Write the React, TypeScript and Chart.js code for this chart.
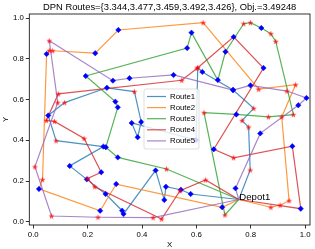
import React, { useEffect, useRef } from 'react';
import { Chart, registerables } from 'chart.js';

Chart.register(...registerables);

const TITLE = 'DPN Routes={3.344,3.477,3.459,3.492,3.426}, Obj.=3.49248';
const routeNames = ['Route1', 'Route2', 'Route3', 'Route4', 'Route5'];
const routeColors = ['rgba(31,119,180,0.8)', 'rgba(255,127,14,0.8)', 'rgba(44,160,44,0.8)', 'rgba(214,39,40,0.8)', 'rgba(148,103,189,0.8)'];
const depotLabel = 'Depot1';
const depotX = 0.756;
const depotY = 0.109;
const xTicks = [0, 0.2, 0.4, 0.6, 0.8, 1.0];
const yTicks = [0, 0.2, 0.4, 0.6, 0.8, 1.0];
const X_MIN = -0.0146;
const X_MAX = 1.018;
const Y_MIN = -0.0162;
const Y_MAX = 1.0206;

// D = delivery (blue diamond), S = pickup (red star)
const route1X = [0.798, 0.792, 0.768, 0.811, 0.735, 0.622, 0.605, 0.599, 0.362, 0.384, 0.397, 0.372, 0.271, 0.115, 0.055, 0.084, 0.258, 0.134, 0.197, 0.266, 0.327, 0.332, 0.450, 0.482, 0.488, 0.543, 0.579];
const route1Y = [0.254, 0.465, 0.497, 0.557, 0.647, 0.736, 0.758, 0.401, 0.485, 0.415, 0.490, 0.639, 0.658, 0.585, 0.522, 0.398, 0.369, 0.274, 0.208, 0.136, 0.054, 0.038, 0.252, 0.107, 0.172, 0.157, 0.136];
const route1Kind = ['S', 'S', 'S', 'S', 'D', 'D', 'S', 'D', 'D', 'D', 'D', 'S', 'D', 'S', 'D', 'S', 'D', 'D', 'D', 'D', 'D', 'D', 'D', 'D', 'D', 'D', 'D'];

const route2X = [0.874, 0.908, 0.941, 0.914, 0.965, 0.829, 0.625, 0.313, 0.228, 0.071, 0.059, 0.049, 0.034, 0.021, 0.246, 0.305, 0.695];
const route2Y = [0.071, 0.081, 0.103, 0.515, 0.673, 0.651, 0.978, 0.942, 0.828, 0.840, 0.841, 0.824, 0.207, 0.161, 0.054, 0.185, 0.071];
const route2Kind = ['S', 'S', 'S', 'S', 'S', 'S', 'S', 'D', 'D', 'S', 'S', 'D', 'S', 'D', 'D', 'D', 'D'];

const route3X = [0.705, 0.628, 0.747, 0.865, 0.957, 0.892, 0.874, 0.839, 0.799, 0.774, 0.707, 0.679, 0.582, 0.566, 0.193, 0.302, 0.311, 0.267, 0.311, 0.490];
const route3Y = [0.033, 0.536, 0.527, 0.515, 0.526, 0.886, 0.924, 0.952, 0.978, 0.973, 0.835, 0.696, 0.929, 0.853, 0.716, 0.590, 0.562, 0.366, 0.316, 0.259];
const route3Kind = ['S', 'S', 'D', 'S', 'S', 'S', 'S', 'D', 'S', 'S', 'D', 'D', 'D', 'D', 'D', 'D', 'D', 'D', 'D', 'S'];

const route4X = [0.984, 0.953, 0.737, 0.664, 0.847, 0.737, 0.603, 0.546, 0.092, 0.048, 0.078, 0.187, 0.250, 0.200, 0.226, 0.472, 0.540, 0.634];
const route4Y = [0.064, 0.371, 0.314, 0.356, 0.755, 0.908, 0.754, 0.695, 0.628, 0.497, 0.493, 0.409, 0.243, 0.212, 0.172, 0.013, 0.152, 0.205];
const route4Kind = ['D', 'D', 'S', 'D', 'D', 'D', 'S', 'S', 'S', 'S', 'S', 'S', 'D', 'S', 'S', 'S', 'S', 'S'];

const route5X = [0.744, 0.835, 0.975, 1.005, 0.933, 0.799, 0.735, 0.516, 0.354, 0.293, 0.059, 0.090, 0.006, 0.067, 0.238, 0.441];
const route5Y = [0.164, 0.434, 0.572, 0.608, 0.642, 0.670, 0.647, 0.721, 0.705, 0.693, 0.889, 0.585, 0.270, 0.028, 0.022, 0.020];
const route5Kind = ['D', 'D', 'D', 'D', 'S', 'D', 'D', 'D', 'D', 'D', 'S', 'S', 'S', 'S', 'S', 'S'];

const routesX = [route1X, route2X, route3X, route4X, route5X];
const routesY = [route1Y, route2Y, route3Y, route4Y, route5Y];
const routesKind = [route1Kind, route2Kind, route3Kind, route4Kind, route5Kind];

const FONT = "'Liberation Sans', Arial, sans-serif";

function makeStar(): HTMLCanvasElement {
  const c = document.createElement('canvas');
  c.width = 7;
  c.height = 7;
  const g = c.getContext('2d')!;
  g.fillStyle = 'rgba(255,0,0,0.75)';
  g.beginPath();
  for (let i = 0; i < 10; i++) {
    const r = i % 2 === 0 ? 3.2 : 1.3;
    const a = -Math.PI / 2 + (i * Math.PI) / 5;
    const px = 3.5 + r * Math.cos(a);
    const py = 3.8 + r * Math.sin(a);
    if (i === 0) g.moveTo(px, py);
    else g.lineTo(px, py);
  }
  g.closePath();
  g.fill();
  return c;
}

export default function App() {
  const ref = useRef<HTMLCanvasElement | null>(null);
  useEffect(() => {
    const canvas = ref.current;
    if (!canvas) return;
    const star = makeStar();

    const lineSets = routeNames.map((name, r) => {
      const pts = [{ x: depotX, y: depotY }];
      routesX[r].forEach((x, i) => pts.push({ x, y: routesY[r][i] }));
      pts.push({ x: depotX, y: depotY });
      return {
        label: name,
        data: pts,
        showLine: true,
        borderColor: routeColors[r],
        backgroundColor: routeColors[r],
        borderWidth: 1.2,
        pointRadius: 0,
        order: 10 - r,
      };
    });
    const diamonds: { x: number; y: number }[] = [];
    const stars: { x: number; y: number }[] = [];
    routesX.forEach((xs, r) =>
      xs.forEach((x, i) => {
        const p = { x, y: routesY[r][i] };
        if (routesKind[r][i] === 'D') diamonds.push(p);
        else stars.push(p);
      })
    );

    const overlay = {
      id: 'overlay',
      afterDraw(chart: any) {
        const ctx = chart.ctx;
        const a = chart.chartArea;
        ctx.save();
        ctx.strokeStyle = '#000';
        ctx.lineWidth = 0.8;
        ctx.strokeRect(a.left, a.top, a.right - a.left, a.bottom - a.top);
        ctx.fillStyle = '#000';
        ctx.font = `9.4px ${FONT}`;
        ctx.textAlign = 'center';
        ctx.textBaseline = 'middle';
        ctx.fillText(TITLE, (a.left + a.right) / 2, 7.5);
        ctx.font = `7.8px ${FONT}`;
        ctx.fillText('X', (a.left + a.right) / 2, 244.5);
        ctx.save();
        ctx.translate(5.5, (a.top + a.bottom) / 2);
        ctx.rotate(-Math.PI / 2);
        ctx.fillText('Y', 0, 0);
        ctx.restore();
        // depot label
        const dx = chart.scales.x.getPixelForValue(depotX);
        const dy = chart.scales.y.getPixelForValue(depotY);
        ctx.font = `9.6px ${FONT}`;
        ctx.textAlign = 'left';
        ctx.textBaseline = 'alphabetic';
        ctx.fillText(depotLabel, dx + 0.5, dy + 0.5);
        // legend
        const lx = 144, ly = 89, lw = 55, lh = 60;
        ctx.beginPath();
        const rr = 2;
        ctx.moveTo(lx + rr, ly);
        ctx.lineTo(lx + lw - rr, ly);
        ctx.quadraticCurveTo(lx + lw, ly, lx + lw, ly + rr);
        ctx.lineTo(lx + lw, ly + lh - rr);
        ctx.quadraticCurveTo(lx + lw, ly + lh, lx + lw - rr, ly + lh);
        ctx.lineTo(lx + rr, ly + lh);
        ctx.quadraticCurveTo(lx, ly + lh, lx, ly + lh - rr);
        ctx.lineTo(lx, ly + rr);
        ctx.quadraticCurveTo(lx, ly, lx + rr, ly);
        ctx.closePath();
        ctx.fillStyle = 'rgba(255,255,255,0.8)';
        ctx.fill();
        ctx.strokeStyle = '#d0d0d0';
        ctx.lineWidth = 0.7;
        ctx.stroke();
        ctx.font = `7.8px ${FONT}`;
        ctx.textBaseline = 'middle';
        routeNames.forEach((name, i) => {
          const y = ly + 7.5 + i * 11.1;
          ctx.strokeStyle = routeColors[i];
          ctx.lineWidth = 1.2;
          ctx.beginPath();
          ctx.moveTo(lx + 3, y);
          ctx.lineTo(lx + 22, y);
          ctx.stroke();
          ctx.fillStyle = '#000';
          ctx.fillText(name, lx + 26, y);
        });
        ctx.restore();
      },
    };

    const chart = new Chart(canvas, {
      type: 'scatter',
      data: {
        datasets: [
          {
            label: 'pickups',
            data: stars,
            pointStyle: star as any,
            pointRadius: 3,
            showLine: false,
            order: 0,
          },
          {
            label: 'deliveries',
            data: diamonds,
            pointStyle: 'rectRot',
            pointRadius: 2.7,
            backgroundColor: '#0000ff',
            borderColor: '#0000ff',
            borderWidth: 0.5,
            showLine: false,
            order: 1,
          },
          ...lineSets,
        ] as any,
      },
      options: {
        responsive: false,
        animation: false,
        devicePixelRatio: 1,
        layout: { padding: { left: 0, right: 3.3, top: 14, bottom: 0 } },
        plugins: {
          legend: { display: false },
          tooltip: { enabled: false },
          title: { display: false },
        },
        scales: {
          x: {
            type: 'linear',
            min: X_MIN,
            max: X_MAX,
            afterBuildTicks: (s: any) => {
              s.ticks = xTicks.map((v) => ({ value: v }));
            },
            afterFit: (s: any) => {
              s.height = 24;
            },
            ticks: {
              callback: (v: any) => Number(v).toFixed(1),
              font: { family: FONT, size: 7.8 },
              color: '#000',
              padding: 2,
              maxRotation: 0,
              autoSkip: false,
            },
            grid: { drawOnChartArea: false, drawTicks: true, tickLength: 3.5, color: '#000', lineWidth: 0.8 },
            border: { display: false },
          },
          y: {
            type: 'linear',
            min: Y_MIN,
            max: Y_MAX,
            afterBuildTicks: (s: any) => {
              s.ticks = yTicks.map((v) => ({ value: v }));
            },
            afterFit: (s: any) => {
              s.width = 29.3;
            },
            ticks: {
              callback: (v: any) => Number(v).toFixed(1),
              font: { family: FONT, size: 7.8 },
              color: '#000',
              padding: 2,
              autoSkip: false,
            },
            grid: { drawOnChartArea: false, drawTicks: true, tickLength: 3.5, color: '#000', lineWidth: 0.8 },
            border: { display: false },
          },
        },
      } as any,
      plugins: [overlay],
    });
    return () => chart.destroy();
  }, []);

  return (
    <div style={{ position: 'fixed', left: 0, top: 0, width: 315, height: 249, background: '#fff' }}>
      <canvas ref={ref} width={315} height={249} style={{ display: 'block', width: 315, height: 249 }} />
    </div>
  );
}
